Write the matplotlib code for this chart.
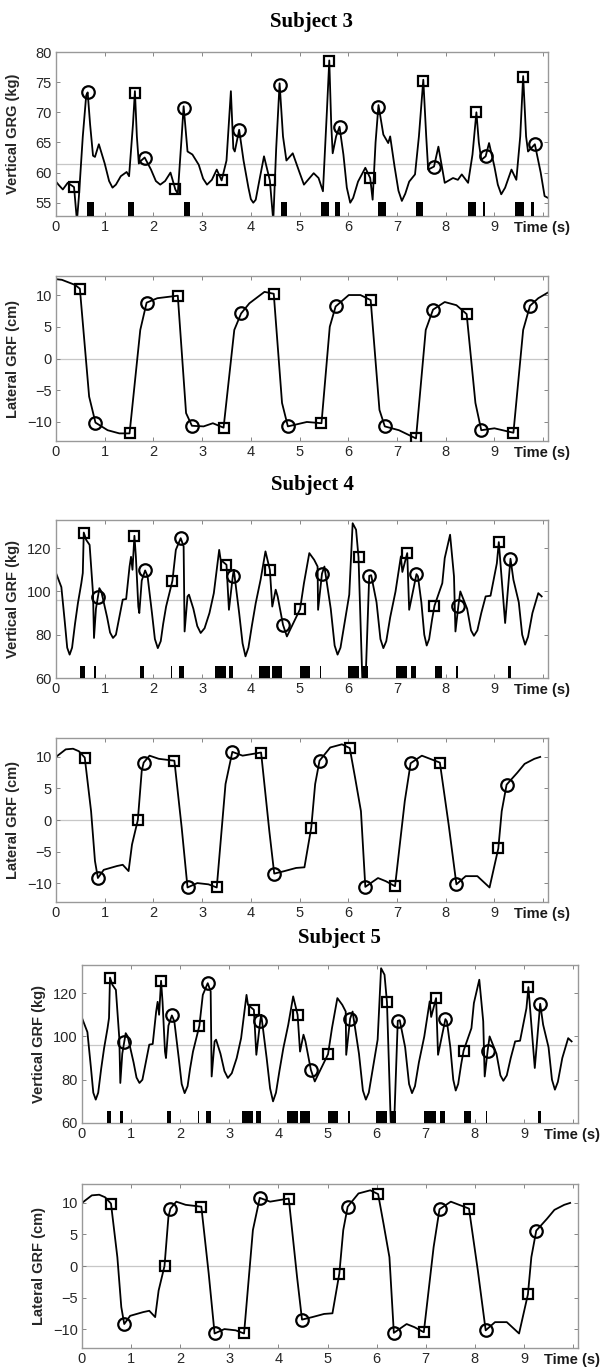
import numpy as np
import matplotlib.pyplot as plt

# ---- Subject 3 ----
s3_vt = [0.0, 0.05, 0.14, 0.24, 0.37, 0.43, 0.47, 0.55, 0.62, 0.65, 0.7, 0.76, 0.8, 0.88, 1.0, 1.09,
         1.16, 1.23, 1.33, 1.45, 1.5, 1.58, 1.62, 1.66, 1.7, 1.75, 1.82, 1.95, 2.05, 2.14, 2.24, 2.35,
         2.45, 2.5, 2.58, 2.62, 2.7, 2.8, 2.93, 3.02, 3.1, 3.2, 3.3, 3.4, 3.5, 3.59, 3.64, 3.67, 3.76,
         3.85, 3.95, 4.0, 4.05, 4.1, 4.17, 4.27, 4.39, 4.46, 4.52, 4.59, 4.66, 4.73, 4.86, 5.0, 5.09,
         5.29, 5.39, 5.48, 5.56, 5.61, 5.65, 5.68, 5.75, 5.82, 5.9, 5.97, 6.04, 6.1, 6.2, 6.35, 6.45,
         6.5, 6.56, 6.62, 6.72, 6.82, 6.86, 6.95, 7.03, 7.1, 7.17, 7.25, 7.37, 7.45, 7.54, 7.6, 7.64,
         7.76, 7.85, 7.98, 8.15, 8.25, 8.33, 8.46, 8.55, 8.63, 8.68, 8.73, 8.82, 8.89, 9.0, 9.07, 9.14,
         9.22, 9.35, 9.45, 9.53, 9.59, 9.65, 9.69, 9.75, 9.83, 9.95, 10.03, 10.1]
s3_vv = [58.5, 58.0, 57.2, 58.3, 57.6, 52.0, 56.0, 66.0, 72.8, 73.3, 68.0, 62.8, 62.6, 64.7, 61.5, 58.6,
         57.5, 58.0, 59.4, 60.1, 59.4, 68.0, 73.5, 66.0, 61.5, 62.0, 62.5, 60.5, 58.6, 58.0, 58.6, 60.0,
         57.2, 56.5, 66.0, 71.0, 63.5, 63.0, 61.3, 59.0, 58.0, 58.8, 60.5, 58.7, 62.0, 73.5, 64.0, 63.5, 67.1,
         62.0, 57.5, 55.6, 55.0, 55.5, 58.5, 62.7, 58.7, 52.0, 64.0, 74.8, 66.0, 62.0, 63.2, 60.0, 58.0,
         59.9, 59.1, 56.9, 70.0, 78.6, 68.0, 63.2, 66.0, 67.6, 63.0, 57.5, 55.0, 55.8, 58.5, 60.8, 59.1,
         55.5, 65.0, 71.2, 66.3, 64.9, 66.0, 61.0, 57.0, 55.3, 56.5, 58.5, 59.7, 66.0, 75.4, 66.0, 60.5,
         61.0, 64.3, 58.3, 59.1, 58.8, 59.7, 58.3, 63.0, 70.0, 65.0, 62.1, 62.7, 64.9, 61.0, 58.0, 56.4,
         57.5, 60.5, 58.8, 66.0, 76.0, 66.0, 63.5, 64.0, 64.7, 60.0, 56.1, 55.8]
s3_v_circ_t = [0.65, 1.82, 2.62, 3.76, 4.59, 5.82, 6.62, 7.76, 8.82, 9.83]
s3_v_circ_v = [73.3, 62.5, 70.7, 67.1, 74.6, 67.6, 70.9, 61.0, 62.7, 64.7]
s3_v_sq_t = [0.37, 1.62, 2.45, 3.40, 4.39, 5.61, 6.45, 7.54, 8.63, 9.59]
s3_v_sq_v = [57.6, 73.2, 57.2, 58.7, 58.7, 78.5, 59.1, 75.2, 70.0, 75.9]
s3_bar_start = [0.63, 1.48, 2.62, 4.61, 5.44, 5.73, 6.62, 7.39, 8.46, 8.76, 9.42, 9.76]
s3_bar_end = [0.77, 1.61, 2.76, 4.74, 5.61, 5.82, 6.78, 7.54, 8.63, 8.80, 9.60, 9.82]
s3_vmean = 61.4

s3_lt = [0.0, 0.12, 0.39, 0.49, 0.68, 0.81, 1.06, 1.3, 1.51, 1.73, 1.86, 2.08, 2.5, 2.67, 2.79, 3.03,
         3.22, 3.44, 3.66, 3.8, 3.97, 4.28, 4.47, 4.64, 4.76, 5.15, 5.45, 5.62, 5.74, 6.01, 6.25, 6.46,
         6.64, 6.75, 7.04, 7.39, 7.59, 7.74, 7.98, 8.22, 8.43, 8.61, 8.73, 9.0, 9.39, 9.59, 9.73, 9.9, 10.1]
s3_lv = [12.5, 12.4, 11.6, 11.0, -6.0, -10.1, -11.3, -11.8, -11.8, 4.5, 8.8, 9.5, 9.9, -8.6, -10.6, -10.7,
         -10.2, -10.9, 4.5, 7.1, 8.7, 10.5, 10.2, -7.0, -10.7, -10.0, -10.2, 5.0, 8.2, 10.0, 10.0, 9.2,
         -8.1, -10.7, -11.3, -12.6, 4.5, 7.7, 8.9, 8.4, 7.0, -7.0, -11.3, -11.0, -11.7, 4.5, 8.3, 9.5, 10.4]
s3_l_circ_t = [0.81, 1.86, 2.79, 3.80, 4.76, 5.74, 6.75, 7.74, 8.73, 9.73]
s3_l_circ_v = [-10.1, 8.8, -10.6, 7.1, -10.7, 8.2, -10.7, 7.7, -11.3, 8.3]
s3_l_sq_t = [0.49, 1.51, 2.50, 3.44, 4.47, 5.45, 6.46, 7.39, 8.43, 9.39]
s3_l_sq_v = [11.0, -11.8, 9.9, -10.9, 10.2, -10.2, 9.2, -12.6, 7.0, -11.7]

# ---- Subject 4 (Subject 5 shows the same traces) ----
s4_vt = [0.00, 0.11, 0.18, 0.23, 0.28, 0.33, 0.39, 0.45, 0.52, 0.55, 0.57, 0.62, 0.69, 0.76, 0.78, 0.82,
         0.86, 0.89, 0.93, 1.05, 1.11, 1.17, 1.23, 1.30, 1.37, 1.44, 1.51, 1.54, 1.57, 1.61, 1.64, 1.69,
         1.71, 1.76, 1.83, 1.88, 1.97, 2.03, 2.09, 2.15, 2.20, 2.26, 2.39, 2.46, 2.56, 2.62, 2.64, 2.70,
         2.73, 2.82, 2.90, 2.97, 3.05, 3.15, 3.24, 3.35, 3.38, 3.50, 3.55, 3.63, 3.65, 3.76, 3.83, 3.89,
         3.95, 4.02, 4.10, 4.20, 4.30, 4.39, 4.44, 4.51, 4.55, 4.66, 4.74, 5.01, 5.09, 5.20, 5.30, 5.37,
         5.38, 5.46, 5.51, 5.64, 5.72, 5.78, 5.84, 5.92, 6.02, 6.09, 6.16, 6.21, 6.26, 6.29, 6.33, 6.36,
         6.43, 6.47, 6.58, 6.66, 6.72, 6.78, 6.86, 6.97, 7.08, 7.11, 7.21, 7.25, 7.40, 7.43, 7.50, 7.56,
         7.61, 7.66, 7.72, 7.77, 7.93, 7.98, 8.09, 8.17, 8.20, 8.26, 8.30, 8.44, 8.52, 8.58, 8.65, 8.73,
         8.82, 8.92, 9.05, 9.09, 9.22, 9.33, 9.39, 9.50, 9.57, 9.63, 9.69, 9.78, 9.90, 9.97]
s4_vv = [108.5, 102.0, 86.0, 74.0, 70.8, 74.0, 85.0, 94.6, 103.8, 108.5, 127.2, 123.8, 121.5, 99.0, 78.5, 92.0,
         97.4, 101.5, 100.0, 88.0, 81.0, 78.5, 80.0, 88.0, 96.2, 96.5, 111.5, 116.0, 110.0, 125.7, 116.0, 93.0,
         90.0, 105.0, 109.7, 107.0, 90.0, 78.0, 73.8, 77.0, 85.0, 93.0, 104.9, 119.2, 124.6, 120.8, 81.5, 97.7,
         98.5, 92.0, 84.0, 80.8, 83.0, 90.0, 99.2, 119.2, 114.6, 112.3, 91.5, 107.2, 110.0, 90.0, 76.0, 70.0,
         74.0, 84.0, 94.6, 105.4, 118.5, 110.0, 93.0, 100.8, 97.7, 84.6, 79.2, 91.8, 103.8, 117.7, 114.6, 111.5,
         91.5, 108.2, 111.5, 92.0, 75.0, 70.8, 74.0, 85.0, 98.5, 131.5, 128.5, 115.8, 79.2, 58.0, 58.0, 62.0,
         107.2, 107.5, 95.0, 78.0, 73.8, 77.0, 88.0, 100.0, 116.2, 109.0, 117.7, 91.5, 108.0, 107.0, 95.0, 80.0,
         75.0, 78.0, 87.0, 93.4, 103.8, 115.4, 126.2, 107.0, 81.5, 93.4, 100.0, 92.0, 82.0, 79.5, 82.0, 90.0,
         97.7, 98.0, 113.0, 122.8, 85.4, 115.1, 105.4, 95.0, 80.0, 75.4, 79.0, 90.0, 99.2, 97.7]
s4_v_circ_t = [0.86, 1.83, 2.56, 3.63, 4.66, 5.46, 6.43, 7.40, 8.26, 9.33]
s4_v_circ_v = [97.4, 109.7, 124.6, 107.2, 84.6, 108.2, 107.2, 108.0, 93.4, 115.1]
s4_v_sq_t = [0.57, 1.61, 2.39, 3.50, 4.39, 5.01, 6.21, 7.21, 7.77, 9.09]
s4_v_sq_v = [127.2, 125.7, 104.9, 112.3, 110.0, 91.8, 115.8, 117.7, 93.4, 122.8]
s4_bar_start = [0.50, 0.78, 1.73, 2.36, 2.53, 3.26, 3.55, 4.17, 4.44, 5.00, 5.41, 5.99,
                6.29, 6.97, 7.28, 7.78, 8.22, 9.28]
s4_bar_end = [0.60, 0.83, 1.81, 2.39, 2.63, 3.48, 3.64, 4.40, 4.64, 5.22, 5.45, 6.22,
              6.40, 7.20, 7.40, 7.92, 8.25, 9.35]
s4_vmean = 96.2

s4_lt = [0.0, 0.2, 0.35, 0.47, 0.59, 0.72, 0.80, 0.86, 0.98, 1.25, 1.37, 1.49, 1.56, 1.68, 1.76, 1.80,
         1.92, 2.11, 2.43, 2.58, 2.70, 2.90, 3.13, 3.30, 3.48, 3.62, 3.83, 4.21, 4.38, 4.48, 4.69, 4.93,
         5.10, 5.24, 5.32, 5.41, 5.63, 5.87, 6.03, 6.14, 6.26, 6.35, 6.61, 6.77, 6.96, 7.16, 7.28, 7.51,
         7.88, 8.06, 8.22, 8.41, 8.65, 8.90, 9.08, 9.15, 9.25, 9.47, 9.62, 9.82, 9.94]
s4_lv = [10.0, 11.2, 11.3, 10.9, 9.9, 1.4, -6.5, -9.2, -7.9, -7.3, -7.1, -8.1, -3.9, 0.0, 7.8, 9.1,
         10.2, 9.7, 9.4, -1.2, -10.7, -10.0, -10.2, -10.7, 5.7, 10.8, 10.2, 10.7, -1.8, -8.5, -8.1, -7.6,
         -7.5, -1.2, 5.7, 9.4, 11.5, 12.0, 11.4, 6.7, 1.4, -10.6, -9.2, -9.7, -10.5, 3.0, 9.0, 10.2,
         9.1, -0.7, -10.2, -8.9, -8.9, -10.7, -4.5, 1.4, 5.6, 7.5, 8.9, 9.7, 10.0]
s4_l_circ_t = [0.86, 1.80, 2.70, 3.62, 4.48, 5.41, 6.35, 7.28, 8.22, 9.25]
s4_l_circ_v = [-9.2, 9.1, -10.7, 10.8, -8.5, 9.4, -10.6, 9.0, -10.2, 5.6]
s4_l_sq_t = [0.59, 1.68, 2.43, 3.30, 4.21, 5.24, 6.03, 6.96, 7.88, 9.08]
s4_l_sq_v = [9.9, 0.0, 9.4, -10.7, 10.7, -1.2, 11.4, -10.5, 9.1, -4.5]

W, H = 607, 1370


def make_axes(fig, left, right, top, bottom):
    return fig.add_axes([left / W, 1 - bottom / H, (right - left) / W, (bottom - top) / H])


def style(ax, ylim, yticks, ylabel, width_px):
    ax.set_xlim(0, 10.1)
    ax.set_ylim(*ylim)
    ax.set_xticks(range(11))
    ax.set_xticklabels([str(i) for i in range(10)] + [''])
    ax.set_yticks(yticks)
    ax.tick_params(direction='in', length=3, width=0.6, top=True, right=True,
                   color='0.45', labelsize=10.5, labelcolor='0.15', pad=3)
    for sp in ax.spines.values():
        sp.set_color('0.6')
        sp.set_linewidth(1.0)
    ax.set_ylabel(ylabel, fontsize=10.5, fontweight='bold', color='0.15')
    ax.yaxis.set_label_coords(-36 / width_px, 0.5)
    ax.text(9.4, -0.03, 'Time (s)', transform=ax.get_xaxis_transform(), ha='left', va='top',
            fontsize=10.5, fontweight='bold', color='0.1')


def draw_panel(ax, t, v, ct, cv, st, sv, ref):
    ax.axhline(ref, color='0.78', lw=0.9, zorder=1)
    ax.plot(t, v, color='k', lw=1.3, zorder=2, solid_joinstyle='round')
    ax.plot(ct, cv, 'o', ms=9, mfc='none', mec='k', mew=1.6, zorder=3)
    ax.plot(st, sv, 's', ms=7.5, mfc='none', mec='k', mew=1.6, zorder=3)


def draw_bars(ax, starts, ends, bottom, height):
    widths = np.array(ends) - np.array(starts)
    ax.bar(starts, height, width=widths, bottom=bottom, align='edge', color='k', lw=0, zorder=3)


def main():
    plt.rcParams['font.family'] = ['Liberation Sans', 'DejaVu Sans']
    fig = plt.figure(figsize=(W / 100, H / 100), dpi=100)

    title_font = dict(family='Liberation Serif', fontsize=15, fontweight='bold')
    fig.text(312 / W, 1 - 22 / H, 'Subject 3', ha='center', va='center', **title_font)
    fig.text(312 / W, 1 - 485 / H, 'Subject 4', ha='center', va='center', **title_font)
    fig.text(339 / W, 1 - 938 / H, 'Subject 5', ha='center', va='center', **title_font)

    # Subject 3
    ax = make_axes(fig, 56, 548, 52, 216)
    draw_panel(ax, s3_vt, s3_vv, s3_v_circ_t, s3_v_circ_v, s3_v_sq_t, s3_v_sq_v, s3_vmean)
    draw_bars(ax, s3_bar_start, s3_bar_end, 52.8, 2.4)
    style(ax, (52.8, 80), [55, 60, 65, 70, 75, 80], 'Vertical GRG (kg)', 492)

    ax = make_axes(fig, 56, 548, 276, 441)
    draw_panel(ax, s3_lt, s3_lv, s3_l_circ_t, s3_l_circ_v, s3_l_sq_t, s3_l_sq_v, 0)
    style(ax, (-13, 13), [-10, -5, 0, 5, 10], 'Lateral GRF (cm)', 492)

    # Subject 4
    ax = make_axes(fig, 56, 548, 520, 678)
    draw_panel(ax, s4_vt, s4_vv, s4_v_circ_t, s4_v_circ_v, s4_v_sq_t, s4_v_sq_v, s4_vmean)
    draw_bars(ax, s4_bar_start, s4_bar_end, 60, 5.4)
    style(ax, (60, 133), [60, 80, 100, 120], 'Vertical GRF (kg)', 492)

    ax = make_axes(fig, 56, 548, 738, 902)
    draw_panel(ax, s4_lt, s4_lv, s4_l_circ_t, s4_l_circ_v, s4_l_sq_t, s4_l_sq_v, 0)
    style(ax, (-13, 13), [-10, -5, 0, 5, 10], 'Lateral GRF (cm)', 492)

    # Subject 5
    ax = make_axes(fig, 82, 578, 965, 1123)
    draw_panel(ax, s4_vt, s4_vv, s4_v_circ_t, s4_v_circ_v, s4_v_sq_t, s4_v_sq_v, s4_vmean)
    draw_bars(ax, s4_bar_start, s4_bar_end, 60, 5.4)
    style(ax, (60, 133), [60, 80, 100, 120], 'Vertical GRF (kg)', 496)

    ax = make_axes(fig, 82, 578, 1184, 1348)
    draw_panel(ax, s4_lt, s4_lv, s4_l_circ_t, s4_l_circ_v, s4_l_sq_t, s4_l_sq_v, 0)
    style(ax, (-13, 13), [-10, -5, 0, 5, 10], 'Lateral GRF (cm)', 496)

    fig.savefig('out.png', dpi=100)


if __name__ == '__main__':
    main()
